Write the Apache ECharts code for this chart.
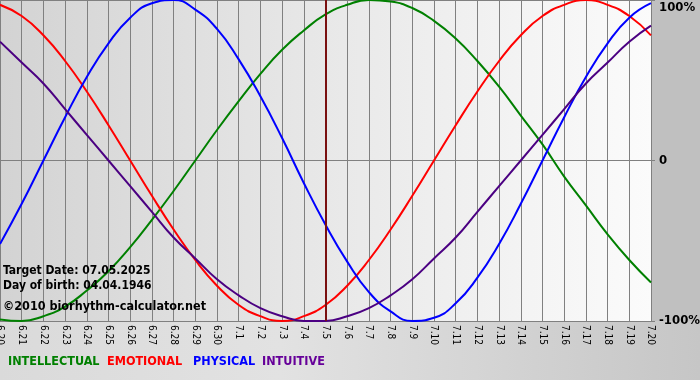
<!DOCTYPE html>
<html><head><meta charset="utf-8">
<script src="https://cdn.jsdelivr.net/npm/echarts@6/dist/echarts.min.js"></script>
<style>
html,body{margin:0;padding:0;}
#c{width:700px;height:380px;background:linear-gradient(to right,#dadada,#e2e2e2 40%,#c6c6c6);}
</style></head>
<body><div id="c"></div>
<script>
var days = ['6.20','6.21','6.22','6.23','6.24','6.25','6.26','6.27','6.28','6.29','6.30',
  '7.1','7.2','7.3','7.4','7.5','7.6','7.7','7.8','7.9','7.10','7.11','7.12','7.13','7.14','7.15','7.16','7.17','7.18','7.19','7.20'];
var intellectual = [-99,-100,-97,-91,-81,-69,-54,-37,-19,0,19,37,54,69,81,91,97,100,99,95,87,76,62,46,28,10,-10,-28,-46,-62,-76];
var emotional = [97,90,78,62,43,22,0,-22,-43,-62,-78,-90,-97,-100,-97,-90,-78,-62,-43,-22,0,22,43,62,78,90,97,100,97,90,78];
var physical = [-52,-27,0,27,52,73,89,98,100,94,82,63,40,14,-14,-40,-63,-82,-94,-100,-98,-89,-73,-52,-27,0,27,52,73,89,98];
var intuitive = [74,61,48,32,16,0,-16,-32,-48,-61,-74,-84,-92,-97,-100,-100,-97,-92,-84,-74,-61,-48,-32,-16,0,16,32,48,61,74,84];
var yTicks = {'100':'100%','0':'0','-100':'-100%'};
var targetDay = '7.5';
var infoLines = ['Target Date: 07.05.2025','Day of birth: 04.04.1946','©2010 biorhythm-calculator.net'];
var legendNames = ['INTELLECTUAL','EMOTIONAL','PHYSICAL','INTUITIVE'];
var legendColors = ['#008000','#ff0000','#0000ff','#660099'];

var FONT = 'DejaVu Sans Condensed';
var chart = echarts.init(document.getElementById('c'), null, {renderer:'canvas'});
function ln(name, data, color, extra){
  var s = {name:name, type:'line', data:data, smooth:true, symbol:'none',
    lineStyle:{color:color, width:2}, itemStyle:{color:color}, z:3, animation:false};
  if(extra) Object.assign(s, extra);
  return s;
}
var legendX = [8,107,193,262];
var graphics = [
  {type:'rect', left:651, top:0, shape:{width:49, height:321}, style:{fill:'#c0c0c0'}, z:-1, silent:true},
  {type:'text', left:3, top:265, z:10, style:{text:infoLines[0], font:'bold 12px "'+FONT+'"', fill:'#000'}},
  {type:'text', left:3, top:280, z:10, style:{text:infoLines[1], font:'bold 12px "'+FONT+'"', fill:'#000'}},
  {type:'text', left:3, top:300, z:10, style:{text:infoLines[2], font:'bold 12.5px "'+FONT+'"', fill:'#000'}}
];
legendNames.forEach(function(n,i){
  graphics.push({type:'text', left:legendX[i], top:355, z:10,
    style:{text:n, font:'bold 12.5px "'+FONT+'"', fill:legendColors[i]}});
});
chart.setOption({
  animation:false,
  grid:{left:0, right:49, top:0, bottom:59, show:true, borderWidth:0, outerBoundsMode:'none', containLabel:false,
    backgroundColor:{type:'linear',x:0,y:0,x2:1,y2:0,colorStops:[{offset:0,color:'#d3d3d3'},{offset:0.5,color:'#e8e8e8'},{offset:1,color:'#fbfbfb'}]}},
  xAxis:{type:'category', data:days, boundaryGap:false,
    axisLine:{show:true, lineStyle:{color:'#808080', width:1}},
    axisTick:{show:true, length:4, lineStyle:{color:'#808080'}},
    splitLine:{show:true, lineStyle:{color:'#808080', width:1}},
    axisLabel:{rotate:-90, interval:0, color:'#000', fontFamily:FONT, fontSize:10, margin:4}},
  yAxis:{type:'value', position:'right', min:-100, max:100, interval:100,
    axisLine:{show:false},
    axisTick:{show:true, length:4, lineStyle:{color:'#808080'}},
    splitLine:{show:true, lineStyle:{color:'#808080', width:1}},
    axisLabel:{color:'#000', fontFamily:FONT, fontSize:13, fontWeight:'bold', margin:8,
      formatter:function(v){return v === 100 ? '{t|' + yTicks['100'] + '}' : yTicks[String(v)];},
      rich:{t:{fontFamily:FONT, fontSize:13, fontWeight:'bold', color:'#000', padding:[16,0,0,0]}}}},
  series:[
    ln('INTELLECTUAL', intellectual, '#008000', {markLine:{silent:true, symbol:'none', label:{show:false},
      lineStyle:{color:'#7a1010', width:2, type:'solid'}, data:[{xAxis:targetDay}]}}),
    ln('EMOTIONAL', emotional, '#ff0000'),
    ln('PHYSICAL', physical, '#0000ff'),
    ln('INTUITIVE', intuitive, '#4b0082')
  ],
  graphic:graphics
});
</script></body></html>
